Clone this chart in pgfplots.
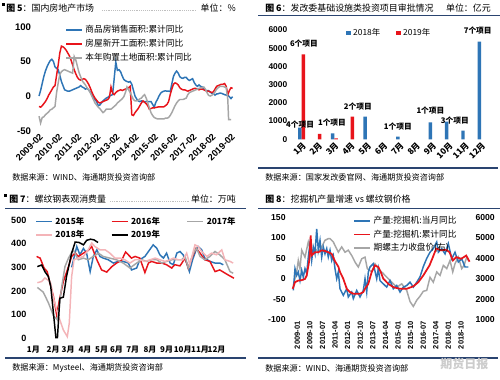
\documentclass[border=0pt]{standalone}
\usepackage{fontspec}
\setmainfont{Liberation Sans}
\newfontfamily\cjk{Noto Sans CJK SC}
\usepackage{pgfplots}
\pgfplotsset{compat=1.18}
\definecolor{cblue}{HTML}{2E75B6}
\definecolor{cred}{HTML}{E8141B}
\definecolor{cgrey}{HTML}{A6A6A6}
\definecolor{cpink}{HTML}{F4B4B8}
\definecolor{navy}{HTML}{2A4470}
\pgfplotsset{
  base/.style={scale only axis, anchor=south west,
    axis line style={draw=none}, major tick length=0pt, tick style={draw=none},
    scaled ticks=false, /pgf/number format/assume math mode=true,
    /pgf/number format/1000 sep={},
    legend cell align=left},
  limg/.style={legend image code/.code={\draw[##1] (0pt,0pt) -- (12pt,0pt);}},
  bimg/.style={legend image code/.code={\fill[##1] (0pt,-1.6pt) rectangle (3.2pt,1.6pt);}},
}
\begin{document}
\begin{tikzpicture}
\useasboundingbox (0,0) rectangle (375pt,-284.25pt);
\fill[white] (0,0) rectangle (375pt,-284.25pt);

% ---------------- texts and rules ----------------
\begin{scope}[x=0.75pt,y=-0.75pt]
\fill (2,3) rectangle (4.5,5.5);
\node[anchor=west,inner sep=0pt,font=\cjk\fontsize{6.7}{7}\selectfont] at (6,8.5) {\textbf{图 5}：国内房地产市场};
\draw[gray!50,densely dotted] (102,10) -- (196,10);
\node[anchor=east,inner sep=0pt,font=\cjk\fontsize{6.7}{7}\selectfont] at (236,8.5) {单位：\%};
\node[anchor=west,inner sep=0pt,font=\cjk\fontsize{6.1}{7}\selectfont] at (12,177) {数据来源：WIND、海通期货投资咨询部};

\node[anchor=west,inner sep=0pt,font=\cjk\fontsize{6.7}{7}\selectfont] at (265,8.5) {\textbf{图 6}：发改委基础设施类投资项目审批情况};
\node[anchor=east,inner sep=0pt,font=\cjk\fontsize{6.7}{7}\selectfont] at (491,8.5) {单位：亿元};
\draw[navy,line width=1.3pt] (258,15.5) -- (500,15.5);
\draw[navy,line width=1.3pt] (258,168) -- (498,168);
\node[anchor=west,inner sep=0pt,font=\cjk\fontsize{6.1}{7}\selectfont] at (265,177) {数据来源：国家发改委官网、海通期货投资咨询部};

\fill (4,194) rectangle (6.5,196.5);
\node[anchor=west,inner sep=0pt,font=\cjk\fontsize{6.7}{7}\selectfont] at (9,199.5) {\textbf{图 7}：螺纹钢表观消费量};
\draw[gray!50,densely dotted] (110,201) -- (190,201);
\node[anchor=east,inner sep=0pt,font=\cjk\fontsize{6.7}{7}\selectfont] at (236,199.5) {单位：万吨};
\draw[navy,line width=1.3pt] (5,208.5) -- (246,208.5);
\draw[navy,line width=1.3pt] (5,358) -- (246,358);
\node[anchor=west,inner sep=0pt,font=\cjk\fontsize{6.1}{7}\selectfont] at (12,368) {数据来源：Mysteel、海通期货投资咨询部};

\node[anchor=west,inner sep=0pt,font=\cjk\fontsize{6.7}{7}\selectfont] at (265,199.5) {\textbf{图 8}：挖掘机产量增速 vs 螺纹钢价格};
\draw[navy,line width=1.3pt] (258,208.5) -- (500,208.5);
\draw[navy,line width=1.3pt] (258,358) -- (498,358);
\node[anchor=west,inner sep=0pt,font=\cjk\fontsize{6.1}{7}\selectfont] at (265,368) {数据来源：WIND、海通期货投资咨询部};
\node[anchor=west,inner sep=0pt,text=gray!40,font=\cjk\bfseries\fontsize{9}{9}\selectfont] at (440,364) {期货日报};
\end{scope}

% ---------------- Panel 1 ----------------
\begin{axis}[base, at={(26.85pt,-98.025pt)}, width=151.2pt, height=78pt,
  xmin=-2, xmax=124, ymin=-50, ymax=100, ytick={-50,0,50,100},
  xtick={0,12,...,120},
  xticklabels={2009-02,2010-02,2011-02,2012-02,2013-02,2014-02,2015-02,2016-02,2017-02,2018-02,2019-02},
  xticklabel style={rotate=45, anchor=north east, font=\fontsize{6.9}{7}\selectfont\bfseries, inner sep=1pt},
  yticklabel style={font=\fontsize{7.2}{8}\selectfont\bfseries},
  limg,
  legend style={at={(0.145,1.04)}, anchor=north west, draw=none, fill=none,
    font=\cjk\fontsize{6.5}{7}\selectfont, row sep=-0.5pt, inner sep=0pt},
]
\addplot[cblue, line width=1.1pt] coordinates {(0,0)(1,8)(2,18)(3,28)(4,36)(5,42)(6,47)(7,51)(8,53)(9,50)(10,42)(12,38)(13,30)(14,21)(15,15)(16,9)(17,8)(18,7)(19,7)(20,8)(21,9)(22,10)(24,12)(25,13)(26,15)(27,13)(28,12)(29,10)(30,11)(31,9)(32,6)(33,2)(34,-3)(36,-8)(37,-14)(38,-13)(39,-10)(40,-7)(41,-5)(42,-3)(43,-2)(44,0)(45,1)(46,2)(48,49)(49,37)(50,38)(51,35)(52,29)(53,24)(54,22)(55,21)(56,20)(57,21)(58,17)(60,0)(61,-4)(62,-7)(63,-8)(64,-7)(65,-8)(66,-8)(67,-8)(68,-8)(69,-8)(70,-8)(72,-16)(73,-9)(74,-5)(75,0)(76,4)(77,6)(78,7)(79,7.5)(80,7)(81,7)(82,6.5)(84,28)(85,33)(86,36)(87,33)(88,28)(89,26)(90,25.5)(91,27)(92,27)(93,24)(94,22.5)(96,25)(97,19.5)(98,16)(99,14)(100,16)(101,14)(102,13)(103,10)(104,8)(105,8)(106,7.7)(108,4)(109,3.6)(110,1.3)(111,3)(112,3.3)(113,4.2)(114,4)(115,3)(116,2)(117,1.4)(118,1.3)(120,-3.6)(121,-0.9)};
\addlegendentry{商品房销售面积:累计同比}
\addplot[cred, line width=1.1pt] coordinates {(0,-15)(1,-16)(2,-14)(3,-11)(4,-8)(5,-4)(6,1)(7,5)(8,9)(9,13)(10,15)(11,30)(12,45)(13,62)(14,72)(15,71)(16,69)(17,66)(18,62)(19,58)(20,52)(21,45)(22,38)(23,32)(24,27)(25,24)(26,23)(27,24)(28,25)(29,24)(30,21)(31,17)(32,12)(33,6)(34,1)(35,-3)(36,-6)(37,-9)(38,-10)(39,-9)(40,-8)(41,-7)(42,-6)(43,-5)(44,-2)(45,13)(46,4)(47,2)(48,5)(49,7)(50,8)(51,9)(52,8)(53,9)(54,10)(55,11)(56,12)(57,14)(58,-27)(59,-28)(60,-24)(61,-21)(62,-18)(63,-14)(64,-10)(65,-7)(66,-9)(67,-11)(68,-14)(69,-19)(70,-18)(71,-17)(72,-17)(73,-16.5)(74,-16)(75,-15.5)(76,-15.5)(77,-15.5)(78,-15.5)(79,-14)(80,-12)(81,-8)(82,2)(83,10)(84,17)(85,19)(86,18)(87,16)(88,12)(89,10)(90,9)(91,9)(92,8)(93,7)(94,8)(95,9)(96,10)(97,11)(98,11)(99,10)(100,9)(101,10)(102,10)(103,9)(104,8)(105,7)(106,7)(107,6)(108,5)(109,6)(110,10)(111,14)(112,15)(113,16)(114,17)(115,17)(116,18)(117,14)(118,2)(119,8)(120,12)(121,11)};
\addlegendentry{房屋新开工面积:累计同比}
\addplot[cgrey, line width=1.1pt] coordinates {(0,-29)(1,-39)(2,-31)(3,-30)(4,-27)(5,-25)(6,-23)(7,-20)(8,-19)(9,-17)(10,-15)(11,5)(12,19)(13,31)(14,35)(15,37)(16,38)(17,37)(18,36)(19,35)(20,34)(21,33)(22,57)(23,52)(24,43)(25,34)(26,28)(27,22)(28,19)(29,16)(30,12)(31,9)(32,5)(33,0)(34,-5)(35,-10)(36,-13)(37,-16)(38,-18)(39,-21)(40,-24)(41,-22)(42,-19)(43,-19)(44,-19)(45,-19)(46,-17)(47,-15)(48,-13)(49,-10)(50,-8)(51,-6)(52,-4)(53,-1)(54,5)(55,13)(56,9)(57,5)(58,0)(59,-5)(60,-7)(61,-7)(62,-6)(63,-4)(64,-3)(65,0)(66,2)(67,-3)(68,-10)(69,-17)(70,-24)(71,-28)(72,-31)(73,-32)(74,-33)(75,-33)(76,-33)(77,-33)(78,-33)(79,-32)(80,-32)(81,-31)(82,-28)(83,-24)(84,-19)(85,-14)(86,-10)(87,-7)(88,-5)(89,-5)(90,-5)(91,-4)(92,-3)(93,2)(94,5)(95,6)(96,7)(97,8)(98,9)(99,10)(100,11)(101,12)(102,12)(103,13)(104,10)(105,5)(106,1)(107,0)(108,1)(109,3)(110,6)(111,10)(112,12)(113,14)(114,14)(115,14)(116,13)(117,12)(118,-5)(118.5,-34)(120,-34)};
\addlegendentry{本年购置土地面积:累计同比}
\end{axis}

% ---------------- Panel 2 ----------------
\begin{axis}[base, at={(218.925pt,-104.475pt)}, width=149.175pt, height=81.975pt,
  clip=false, ybar=0pt, bar width=2.6pt,
  xmin=0.4, xmax=12.6, ymin=0, ymax=6000, ytick={0,1000,...,6000},
  xtick={1,...,12},
  xticklabels={1月,2月,3月,4月,5月,6月,7月,8月,9月,10月,11月,12月},
  xticklabel style={rotate=45, anchor=north east, font=\cjk\bfseries\fontsize{6.3}{7}\selectfont, inner sep=1pt},
  yticklabel style={font=\fontsize{6.3}{7}\selectfont\bfseries},
  legend columns=2, bimg,
  legend style={at={(0.272,1.04)}, anchor=north west, draw=none, fill=none,
    font=\cjk\fontsize{6.3}{7}\selectfont, inner sep=0pt,
    /tikz/every even column/.append style={column sep=10pt}},
]
\addplot[fill=cblue, draw=none] coordinates {(1,640)(3,330)(5,1244)(7,146)(9,933)(10,970)(11,475)(12,5360)};
\addlegendentry{2018年}
\addplot[fill=cred, draw=none] coordinates {(1,4665)(2,293)(3,55)(4,1244)};
\addlegendentry{2019年}
\begin{scope}[every node/.style={font=\cjk\bfseries\fontsize{5.8}{6}\selectfont, inner sep=0pt}]
\node at (axis cs:0.9,785) {4个项目};
\node at (axis cs:1.14,5230) {6个项目};
\node at (axis cs:2.86,895) {1个项目};
\node at (axis cs:4.45,1773) {2个项目};
\node at (axis cs:6.9,675) {1个项目};
\node at (axis cs:8.9,1553) {1个项目};
\node at (axis cs:10.4,1004) {3个项目};
\node at (axis cs:11.8,5945) {7个项目};
\end{scope}
\end{axis}

% ---------------- Panel 3 ----------------
\begin{axis}[base, at={(23.295pt,-253.725pt)}, width=156.6pt, height=88.725pt,
  xmin=0, xmax=53, ymin=0, ymax=500, ytick={0,100,...,500},
  xtick={0.6,5.6,9.4,13.7,17.9,21.7,25.8,30.2,34.4,38.5,42.9,47.1},
  xticklabels={1月,2月,3月,4月,5月,6月,7月,8月,9月,10月,11月,12月},
  xticklabel style={font=\cjk\bfseries\fontsize{6}{7}\selectfont, yshift=-2pt},
  yticklabel style={font=\fontsize{6.8}{7}\selectfont\bfseries},
  limg, legend columns=3,
  legend style={at={(0.019,1.05)}, anchor=north west, draw=none, fill=none,
    font=\cjk\bfseries\fontsize{6.3}{7}\selectfont, inner sep=0pt, row sep=-1pt,
    /tikz/every even column/.append style={column sep=18pt}},
]
\addplot[cblue, line width=1.1pt] coordinates {(10.3,300)(11.6,388)(12.4,353)(13.3,380)(14.1,360)(15,282)(15.8,346)(16.7,374)(17.5,346)(18.3,339)(19.6,332)(20.9,318)(22.1,325)(23.4,325)(24.7,318)(25.5,289)(26.8,297)(27.6,332)(28.9,346)(29.8,367)(31,395)(31.9,381)(32.7,353)(33.6,339)(34.4,360)(35.3,318)(36.1,311)(37,360)(37.8,367)(38.6,353)(39.5,318)(40.2,282)(41,332)(41.9,374)(42.4,388)(43.3,374)(44.1,339)(45.4,325)(46.7,318)(47.9,318)(48.8,311)};
\addlegendentry{2015年}
\addplot[cred, line width=1.1pt] coordinates {(1.4,346)(2.3,339)(3.3,297)(4.1,282)(4.8,233)(5.7,176)(6.5,99)(7.2,162)(8.2,240)(9.5,303)(10.3,346)(11.2,360)(12,346)(13.3,360)(14.5,371)(15.4,388)(16.7,332)(17.9,289)(19.2,280)(20.5,303)(21.7,318)(23,330)(24,365)(25.5,339)(26.4,346)(27.6,339)(28.9,278)(29.8,318)(30.6,325)(31.9,318)(33.2,318)(34.4,311)(35.7,297)(36.5,311)(37.8,306)(39.1,339)(39.9,297)(40.8,339)(41.9,381)(42.9,360)(44.1,332)(45.4,325)(46.7,282)(47.9,289)(49,278)(50,268)(51.5,254)};
\addlegendentry{2016年}
\addplot[cgrey, line width=1.1pt] coordinates {(1.6,215)(3.1,195)(4.4,150)(5.7,95)(6.7,78)(7.8,219)(8.6,303)(9.5,339)(10.7,374)(12,332)(13.3,339)(14.5,332)(15.8,346)(17.1,360)(18.3,346)(20,339)(21.7,332)(23.4,318)(25.1,297)(26.8,318)(28.1,332)(29.3,325)(30.6,332)(31.9,332)(33.2,318)(34.4,325)(35.7,332)(37,332)(38.2,332)(39.1,346)(39.9,297)(41.2,360)(42,381)(42.9,346)(44.1,332)(45.4,346)(46.7,367)(47.9,353)(49.2,332)(50.5,282)(51.3,275)};
\addlegendentry{2017年}
\addplot[cpink, line width=1.1pt] coordinates {(1.6,235)(2.7,240)(3.5,255)(4.4,245)(5,233)(5.6,176)(6.5,120)(7.3,78)(8.2,35)(9.2,7)(9.7,64)(10.3,261)(10.9,332)(12,339)(13.3,346)(14.5,374)(15.4,403)(16.2,388)(17.5,374)(18.8,374)(20,360)(21.3,339)(22.6,339)(23.8,332)(25.1,318)(26.4,332)(27.6,332)(28.9,325)(30.2,332)(31.5,339)(32.7,332)(34,325)(35.3,332)(36.1,339)(37.4,332)(38.6,332)(39.5,360)(40.3,311)(41.6,395)(42.4,388)(43.3,367)(44.6,346)(45.8,360)(47.1,353)(48.4,374)(49.2,332)(50.5,325)(51.3,318)};
\addlegendentry{2018年}
\addplot[black, line width=1.1pt] coordinates {(1.6,303)(2.7,310)(3.5,282)(4.4,261)(5,219)(5.6,120)(6.3,3)(6.7,3)(7.3,169)(8.2,174)(9,261)(10.3,360)(11.2,407)(12.2,405)(13.3,395)(14.1,414)(15.1,419)(16,416)(17,405)};
\addlegendentry{2019年}
\end{axis}

% ---------------- Panel 4 ----------------
\begin{axis}[base, at={(217.725pt,-240pt)}, width=135.375pt, height=77.025pt,
  xmin=-5, xmax=124, ymin=1000, ymax=6000, ytick={1000,2000,...,6000},
  axis y line*=right, xtick=\empty,
  yticklabel style={font=\fontsize{6.5}{7}\selectfont\bfseries},
]
\addplot[cgrey, line width=1.1pt] coordinates {(-2.86,2680)(-0.43,3340)(0.71,3900)(1.93,3500)(3.15,4400)(5.5,4060)(7.86,4800)(10.29,4220)(12.65,4480)(15.01,4300)(17.44,4560)(19.8,4880)(22.16,4960)(23.37,4960)(25.73,4800)(29.31,4300)(31.74,4560)(34.1,4300)(36.45,4400)(38.88,4140)(41.24,3820)(43.6,3580)(46.03,3980)(48.39,4060)(50.04,3500)(53.18,3340)(55.54,3740)(57.9,3500)(61.47,3260)(65.05,3010)(67.48,2840)(71.05,2600)(74.63,2760)(78.2,2440)(80.56,1900)(82.92,1660)(85.35,1960)(87.71,2160)(90.06,2400)(92.5,2440)(94.85,3080)(97.21,2840)(99.64,3340)(102,3170)(104.36,3660)(106.79,3500)(109.15,3900)(111.08,3340)(112.72,3740)(115.08,4060)(117.51,3500)(119.16,3660)(121.09,4060)(122.23,3900)};
\end{axis}
\begin{axis}[base, at={(217.725pt,-240pt)}, width=135.375pt, height=77.025pt,
  xmin=-5, xmax=124, ymin=-100, ymax=150, ytick={-100,-50,0,50,100,150},
  axis y line*=left,
  xtick={0,9,...,117},
  xticklabels={2009-01,2009-10,2010-07,2011-04,2012-01,2012-10,2013-07,2014-04,2015-01,2015-10,2016-07,2017-04,2018-01,2018-10},
  xticklabel style={rotate=90, anchor=east, font=\fontsize{5.6}{6}\selectfont\bfseries, inner sep=1pt},
  yticklabel style={font=\fontsize{6.5}{7}\selectfont\bfseries},
  limg,
  legend style={at={(0.347,1.037)}, anchor=north west, draw=none, fill=none,
    font=\cjk\fontsize{6.5}{7}\selectfont, inner sep=0pt, row sep=-1pt},
]
\addplot[cblue, line width=1.1pt] coordinates {(-2.86,-28)(-1.64,25)(-0.43,8.5)(0.71,17)(1.93,-4)(3.15,21)(4.29,4)(5.5,25)(6.72,13)(7.86,53)(9.08,86)(10.29,45)(11.44,78)(12.65,61)(13.87,122)(15.01,70)(16.23,94)(17.44,53)(18.58,78)(19.8,61)(21.02,74)(22.16,53)(23.37,70)(24.59,45)(25.73,57)(26.95,25)(28.16,0.5)(29.31,17)(30.52,-24)(32.88,-40)(35.31,-24)(36.45,-44)(38.88,-32)(40.03,-48)(42.46,-28)(44.82,-44)(47.18,-28)(48.39,0.5)(49.61,-32)(50.75,17)(51.97,29)(54.32,37)(56.75,0.5)(57.9,25)(59.11,-4)(61.47,-12)(63.9,-20)(66.26,-4)(68.62,-24)(71.05,-16)(73.41,-32)(75.77,-20)(78.2,-16)(80.56,-8)(82.92,-20)(85.35,-8)(87.71,5)(90.06,30)(92.5,50)(94.85,65)(97.21,74)(99.64,90)(100.79,65)(103.22,74)(105.58,61)(107.93,86)(110.36,49)(112.72,65)(115.08,41)(117.51,49)(119.87,29)(122.23,29)};
\addlegendentry{产量:挖掘机:当月同比}
\addplot[cred, line width=1.3pt] coordinates {(-3.29,-24)(-1.64,-8)(0.71,-4)(3.15,-3)(5.5,0)(6.72,8.5)(8.58,45)(9.58,106)(10.29,57)(12.65,65)(15.01,65)(17.44,69.5)(19.8,68)(22.16,65)(24.59,61)(26.95,43)(29.31,30)(30.52,17)(32.88,0.5)(35.31,-24)(37.67,-32)(40.03,-36)(44.82,-36)(47.18,-32)(48.39,-24)(50.75,-12)(53.18,17)(55.54,33)(57.9,29)(59.61,17)(61.47,0.5)(65.05,-12)(68.62,-20)(73.41,-24)(78.2,-24)(82.92,-18)(86.5,-8)(90.06,8.5)(94.5,33)(96.9,53)(99.29,74)(102.86,69.5)(106.43,71)(108.79,65)(111.22,45)(113.58,53)(117.15,49)(120.73,57)(123.09,42)};
\addlegendentry{产量:挖掘机:累计同比}
\addlegendimage{cgrey, line width=1.1pt}
\addlegendentry{期螺主力收盘价(右)}
\end{axis}
\end{tikzpicture}
\end{document}
